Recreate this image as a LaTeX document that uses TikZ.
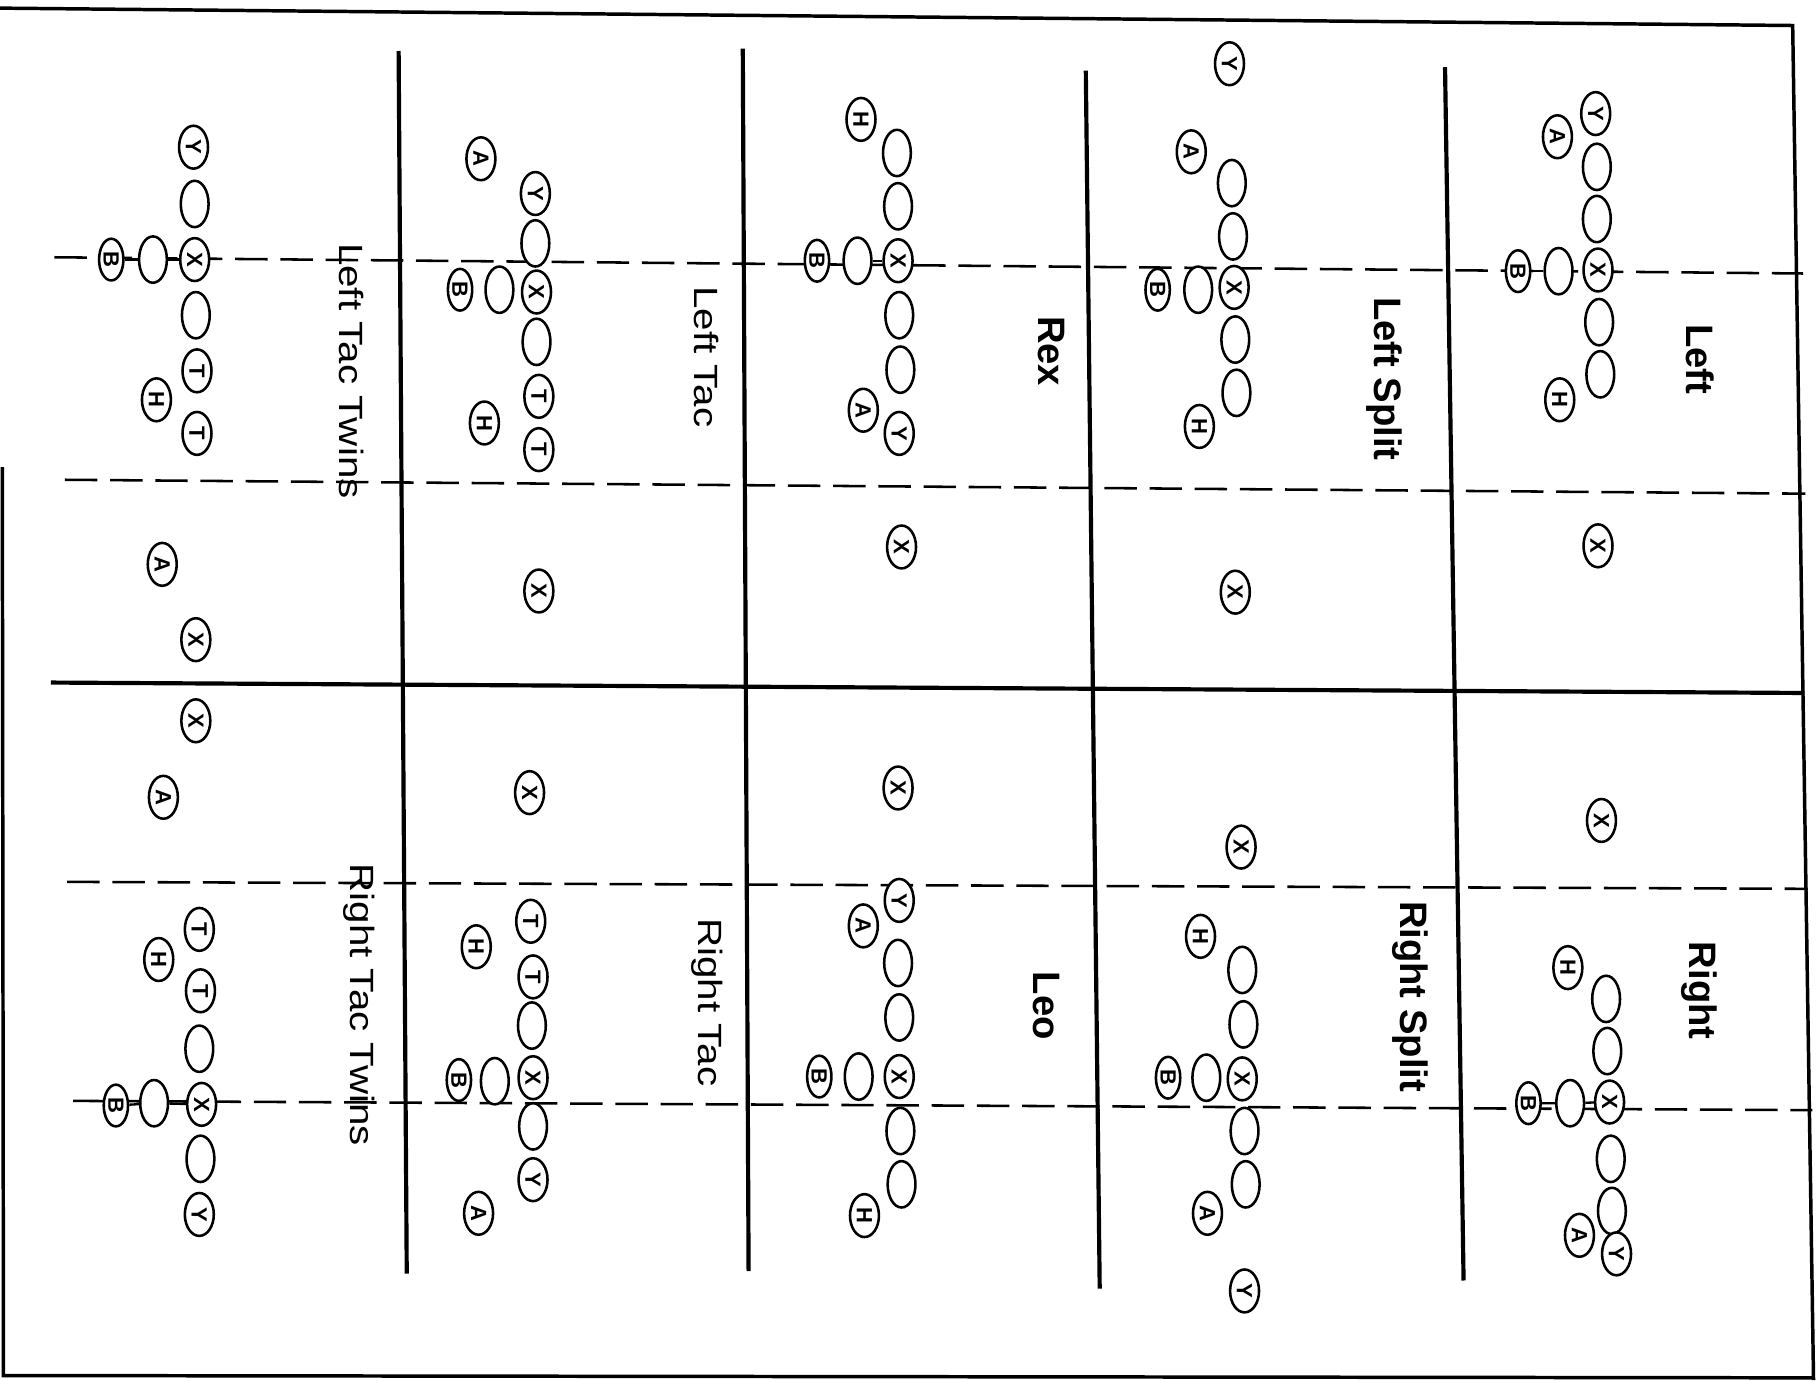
\documentclass[tikz,border=0pt]{standalone}
\usepackage{fontspec}
\setsansfont{Liberation Sans}
\usetikzlibrary{shapes.geometric}

\begin{document}
\begin{tikzpicture}[
    x=0.5pt, y=-0.5pt,
    font=\sffamily,
    man/.style={draw, ellipse, rotate=-90, fill=white, line width=1.1pt,
                minimum width=18.5pt, minimum height=12.5pt, inner sep=0pt,
                font=\sffamily\bfseries\fontsize{9.5}{9.5}\selectfont},
    lin/.style={man, minimum width=20pt, minimum height=12pt},
    bk/.style={man, minimum width=18pt, minimum height=10.5pt},
    ttl/.style={rotate=-90, inner sep=0pt, font=\sffamily\fontsize{14.5}{14.5}\selectfont},
    btl/.style={rotate=-90, inner sep=0pt, font=\sffamily\bfseries\fontsize{16.5}{16.5}\selectfont},
    los/.style={dash pattern=on 14pt off 5.5pt, line width=1.1pt},
    wall/.style={line width=1.8pt},
]
\useasboundingbox (0,0) rectangle (1568,1191);

% --- page frame ---
\draw[line width=1.5pt] (0,7) -- (1547,22) -- (1565,1191);
\draw[line width=1.5pt] (2,403) -- (3,1187) -- (1566,1189);

% --- column dividers and the middle line ---
\draw[wall] (344,44) -- (351,1099);
\draw[wall] (641,42) -- (646,1097);
\draw[wall] (937,61) -- (949,1112);
\draw[wall] (1247,58) -- (1263,1105);
\draw[wall] (44,589) -- (1557,598);

% --- scrimmage lines ---
\draw[los] (47,222) -- (1556,236);
\draw[los] (56,414) -- (1558,426);
\draw[los] (58,761) -- (1560,767);
\draw[los] (63,950) -- (1564,958);

% --- Left Tac Twins ---
\node[man] (ltY)  at (167,127) {Y};
\node[lin] (ltG1) at (168,176) {};
\node[man] (ltX)  at (168,224) {X};
\node[lin] (ltQ)  at (132,224) {};
\node[bk]  (ltB)  at (96,224)  {B};
\node[lin] (ltG2) at (169,272) {};
\node[man] (ltT1) at (170,320) {T};
\node[man] (ltH)  at (135,345) {H};
\node[man] (ltT2) at (170,374) {T};
\node[man] (ltA)  at (140,487) {A};
\node[man] (ltW)  at (169,552) {X};
\draw[line width=1pt] (ltB) -- (ltQ) -- (ltX);

% --- Right Tac Twins ---
\node[man] (rtW)  at (169,622) {X};
\node[man] (rtA)  at (141,688) {A};
\node[man] (rtT1) at (172,802) {T};
\node[man] (rtH)  at (137,828) {H};
\node[man] (rtT2) at (173,855) {T};
\node[lin] (rtG1) at (172,905) {};
\node[man] (rtX)  at (174,953) {X};
\node[lin] (rtQ)  at (133,952) {};
\node[bk]  (rtB)  at (100,954) {B};
\node[lin] (rtG2) at (173,1000) {};
\node[man] (rtY)  at (172,1048) {Y};
\draw[line width=1pt] (rtB) -- (rtQ) -- (rtX);

% --- Left Tac ---
\node[man] (lA)  at (415,137) {A};
\node[man] (lY)  at (462,167) {Y};
\node[lin] (lG1) at (462,210) {};
\node[bk]  (lB)  at (397,250) {B};
\node[lin] (lQ)  at (431,250) {};
\node[man] (lX)  at (463,252) {X};
\node[lin] (lG2) at (463,295) {};
\node[man] (lT1) at (465,342) {T};
\node[man] (lH)  at (418,365) {H};
\node[man] (lT2) at (465,388) {T};
\node[man] (lW)  at (465,510) {X};

% --- Right Tac ---
\node[man] (rW)  at (457,684) {X};
\node[man] (rT1) at (458,795) {T};
\node[man] (rH)  at (411,817) {H};
\node[man] (rT2) at (460,843) {T};
\node[lin] (rG1) at (459,885) {};
\node[man] (rX)  at (460,930) {X};
\node[lin] (rQ)  at (427,933) {};
\node[bk]  (rB)  at (396,932) {B};
\node[lin] (rG2) at (460,972) {};
\node[man] (rY)  at (460,1018) {Y};
\node[man] (rA)  at (413,1047) {A};

% --- Rex ---
\node[man] (xH)  at (743,103) {H};
\node[lin] (xG1) at (774,132) {};
\node[lin] (xG2) at (775,178) {};
\node[bk]  (xB)  at (705,225) {B};
\node[lin] (xQ)  at (740,225) {};
\node[man] (xX)  at (775,225) {X};
\node[lin] (xG3) at (776,272) {};
\node[lin] (xG4) at (777,319) {};
\node[man] (xA)  at (745,354) {A};
\node[man] (xY)  at (776,374) {Y};
\node[man] (xW)  at (778,472) {X};
\draw[line width=1pt] (xQ) -- (xX);

% --- Leo ---
\node[man] (oW)  at (775,680) {X};
\node[man] (oY)  at (776,777) {Y};
\node[man] (oA)  at (745,799) {A};
\node[lin] (oG1) at (775,831) {};
\node[lin] (oG2) at (776,878) {};
\node[bk]  (oB)  at (707,929) {B};
\node[lin] (oQ)  at (741,929) {};
\node[man] (oX)  at (776,929) {X};
\node[lin] (oG3) at (777,976) {};
\node[lin] (oG4) at (778,1022) {};
\node[man] (oH)  at (746,1049) {H};

% --- Left Split ---
\node[man] (sY)  at (1061,55)  {Y};
\node[man] (sA)  at (1028,131) {A};
\node[lin] (sG1) at (1063,158) {};
\node[lin] (sG2) at (1064,204) {};
\node[bk]  (sB)  at (999,250)  {B};
\node[lin] (sQ)  at (1034,250) {};
\node[man] (sX)  at (1065,248) {X};
\node[lin] (sG3) at (1066,293) {};
\node[lin] (sG4) at (1067,339) {};
\node[man] (sH)  at (1035,368) {H};
\node[man] (sW)  at (1066,511) {X};

% --- Right Split ---
\node[man] (pW)  at (1071,731) {X};
\node[man] (pH)  at (1036,808) {H};
\node[lin] (pG1) at (1072,837) {};
\node[lin] (pG2) at (1073,884) {};
\node[bk]  (pB)  at (1008,930) {B};
\node[lin] (pQ)  at (1041,930) {};
\node[man] (pX)  at (1072,931) {X};
\node[lin] (pG3) at (1074,976) {};
\node[lin] (pG4) at (1075,1022) {};
\node[man] (pA)  at (1042,1047) {A};
\node[man] (pY)  at (1074,1114) {Y};

% --- Left ---
\node[man] (fY)  at (1377,98)  {Y};
\node[man] (fA)  at (1344,118) {A};
\node[lin] (fG1) at (1378,144) {};
\node[lin] (fG2) at (1378,189) {};
\node[bk]  (fB)  at (1310,234) {B};
\node[lin] (fQ)  at (1345,234) {};
\node[man] (fX)  at (1379,233) {X};
\node[lin] (fG3) at (1380,278) {};
\node[lin] (fG4) at (1381,323) {};
\node[man] (fH)  at (1346,345) {H};
\node[man] (fW)  at (1379,471) {X};
\draw[line width=1pt] (fB) -- (fQ);

% --- Right ---
\node[man] (gW)  at (1382,708) {X};
\node[man] (gH)  at (1353,835) {H};
\node[lin] (gG1) at (1386,862) {};
\node[lin] (gG2) at (1387,907) {};
\node[bk]  (gB)  at (1319,952) {B};
\node[lin] (gQ)  at (1355,952) {};
\node[man] (gX)  at (1389,951) {X};
\node[lin] (gG3) at (1390,1000) {};
\node[lin] (gG4) at (1391,1045) {};
\node[man] (gA)  at (1363,1066) {A};
\node[man] (gY)  at (1395,1082) {Y};
\draw[line width=1pt] (gB) -- (gQ) -- (gX);

% --- formation names ---
\node[ttl] (nLTT) at (303,320) {\scalebox{1.2}[1]{Left Tac Twins}};
\node[ttl] (nRTT) at (310,867) {\scalebox{1.2}[1]{Right Tac Twins}};
\node[ttl] (nLT)  at (610,308) {\scalebox{1.2}[1]{Left Tac}};
\node[ttl] (nRT)  at (610,865) {\scalebox{1.2}[1]{Right Tac}};
\node[btl] (nRex) at (907,303) {Rex};
\node[btl] (nLeo) at (903,868) {Leo};
\node[btl] (nLS)  at (1195,327) {Left Split};
\node[btl] (nRS)  at (1217,860) {Right Split};
\node[btl] (nL)   at (1467,310) {Left};
\node[btl] (nR)   at (1466,855) {Right};

\end{tikzpicture}
\end{document}
